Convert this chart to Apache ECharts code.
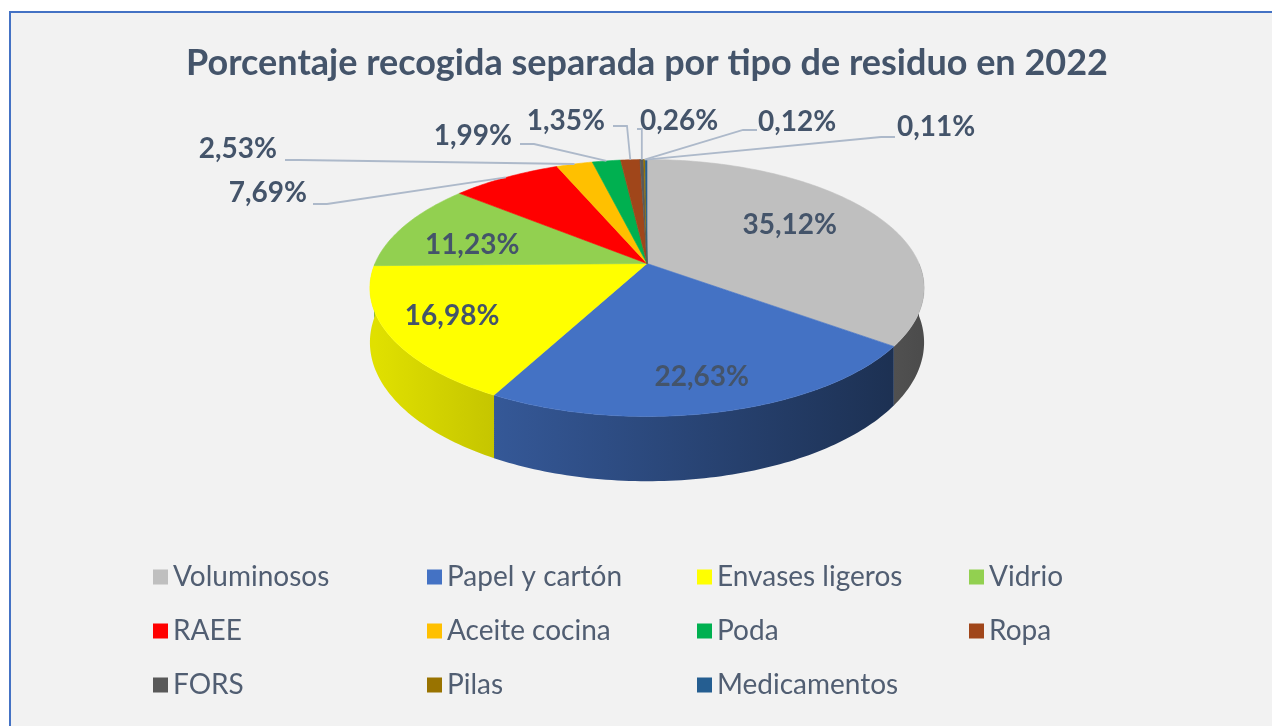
<!DOCTYPE html>
<html>
<head>
<meta charset="utf-8">
<title>Porcentaje recogida separada por tipo de residuo en 2022</title>
<script src="https://cdn.jsdelivr.net/npm/echarts@6/dist/echarts.min.js"></script>
<style>
  html, body { margin: 0; padding: 0; background: #ffffff; overflow: hidden; }
  .frame { position: absolute; left: 9px; top: 11px; width: 1300px; height: 760px; background: #f2f2f2; border-top: 2px solid #4472c4; border-left: 2px solid #4472c4; }
  #chart { position: absolute; left: 0; top: 0; width: 1272px; height: 726px; }
</style>
</head>
<body>
<div class="frame"></div>
<div id="chart"></div>
<script>
// datos
const categories = ['Voluminosos', 'Papel y cartón', 'Envases ligeros', 'Vidrio', 'RAEE', 'Aceite cocina', 'Poda', 'Ropa', 'FORS', 'Pilas', 'Medicamentos'];
const shares = [35.12, 22.63, 16.98, 11.23, 7.69, 2.53, 1.99, 1.35, 0.26, 0.12, 0.11];
const colors = ['#bfbfbf', '#4472c4', '#ffff00', '#92d050', '#ff0000', '#ffc000', '#00b050', '#a0461a', '#595959', '#997300', '#255e91'];

// tarta 3D en perspectiva
const pie = { cx: 647, cy: 263.5, rx: 272, ry: 123.8, persp: 0.1907, depth: 52.4 };
const total = shares.reduce((a, b) => a + b, 0);
const startAngle = [];
shares.reduce((acc, v, i) => { startAngle[i] = acc / total * 360; return acc + v; }, 0);

// etiquetas interiores: [radio, desvio de angulo]
const insideLabel = { 0: [0.65, -4], 1: [0.8, 0.5], 2: [0.77, 1], 3: [0.68, -6] };
// etiquetas exteriores: [x texto, y texto, alineacion, x linea, y linea]
const outsideLabel = {
  4: [307, 193, 'right', 313, 204],
  5: [277, 149, 'right', 285, 160],
  6: [512, 136, 'right', 520, 144],
  7: [605, 121, 'right', 613, 126],
  8: [640, 121, 'left', 637, 129],
  9: [758, 122, 'left', 757, 130],
  10: [897, 127, 'left', 895, 137]
};

function project(phi, r) {
  const a = phi * Math.PI / 180;
  const d = -Math.cos(a) * r;
  const w = 1 / (1 - pie.persp * d);
  return [pie.cx + pie.rx * r * Math.sin(a) * w, pie.cy + pie.ry * d * w, w];
}

function shade(hex, f) {
  const n = parseInt(hex.slice(1), 16);
  const r = Math.round(((n >> 16) & 255) * f);
  const g = Math.round(((n >> 8) & 255) * f);
  const b = Math.round((n & 255) * f);
  return 'rgb(' + r + ',' + g + ',' + b + ')';
}

function fmt(v) {
  return v.toFixed(2).replace('.', ',') + '%';
}

function renderSlice(params, api) {
  const i = params.seriesIndex;
  const v = api.value(0);
  const a0 = startAngle[i];
  const a1 = a0 + v / total * 360;
  const color = colors[i];
  const children = [];

  // cara superior
  const top = [[pie.cx, pie.cy]];
  const steps = Math.max(2, Math.ceil(a1 - a0));
  for (let k = 0; k <= steps; k++) {
    const p = project(a0 + (a1 - a0) * k / steps, 1);
    top.push([p[0], p[1]]);
  }
  children.push({
    type: 'polygon', z2: 20,
    shape: { points: top },
    style: { fill: color, stroke: color, lineWidth: 0.6 }
  });

  // lateral (solo la mitad delantera)
  const s0 = Math.max(a0, 90), s1 = Math.min(a1, 270);
  if (s1 > s0) {
    const upper = [], lower = [];
    const n = Math.max(2, Math.ceil(s1 - s0));
    for (let k = 0; k <= n; k++) {
      const p = project(s0 + (s1 - s0) * k / n, 1);
      upper.push([p[0], p[1]]);
      lower.push([p[0], p[1] + pie.depth * p[2]]);
    }
    children.push({
      type: 'polygon', z2: 10,
      shape: { points: upper.concat(lower.reverse()) },
      style: {
        fill: new echarts.graphic.LinearGradient(pie.cx - pie.rx, 0, pie.cx + pie.rx, 0, [
          { offset: 0, color: shade(color, 0.88) },
          { offset: 1, color: shade(color, 0.40) }
        ], true),
        stroke: null
      }
    });
  }

  const font = 'bold 28px Lato';
  if (insideLabel[i]) {
    const cfg = insideLabel[i];
    const p = project((a0 + a1) / 2 + cfg[1], cfg[0]);
    children.push({
      type: 'text', z2: 40, x: p[0], y: p[1],
      style: { text: fmt(v), font: font, fill: '#44546a', align: 'center', verticalAlign: 'middle' }
    });
  } else if (outsideLabel[i]) {
    const cfg = outsideLabel[i];
    const target = project((a0 + a1) / 2, 1);
    const dx = target[0] - cfg[3];
    const bendX = cfg[3] + Math.sign(dx) * Math.min(14, Math.abs(dx));
    children.push({
      type: 'polyline', z2: 30,
      shape: { points: [[cfg[3], cfg[4]], [bendX, cfg[4]], [target[0], target[1]]] },
      style: { stroke: '#adb9ca', lineWidth: 1.8, fill: null }
    });
    children.push({
      type: 'text', z2: 40, x: cfg[0], y: cfg[1],
      style: { text: fmt(v), font: font, fill: '#44546a', align: cfg[2], verticalAlign: 'middle' }
    });
  }
  return { type: 'group', children: children };
}

const legendCols = [153, 427, 697, 969];
const legendRows = [577, 631, 685];

const chart = echarts.init(document.getElementById('chart'));
chart.setOption({
  animation: false,
  title: {
    text: 'Porcentaje recogida separada por tipo de residuo en 2022',
    left: 647,
    top: 45,
    padding: 0,
    textAlign: 'center',
    textStyle: { fontFamily: 'Lato', fontWeight: 'bold', fontSize: 36, color: '#44546a' }
  },
  legend: categories.map((name, i) => ({
    data: [name],
    left: legendCols[i % 4],
    top: legendRows[Math.floor(i / 4)] - 14,
    padding: 0,
    icon: 'rect',
    itemWidth: 15,
    itemHeight: 15,
    selectedMode: false,
    textStyle: { fontFamily: 'Lato', fontSize: 28, color: '#515e72' }
  })),
  series: categories.map((name, i) => ({
    type: 'custom',
    name: name,
    coordinateSystem: 'none',
    silent: true,
    itemStyle: { color: colors[i] },
    data: [[shares[i]]],
    renderItem: renderSlice
  }))
});
</script>
</body>
</html>
